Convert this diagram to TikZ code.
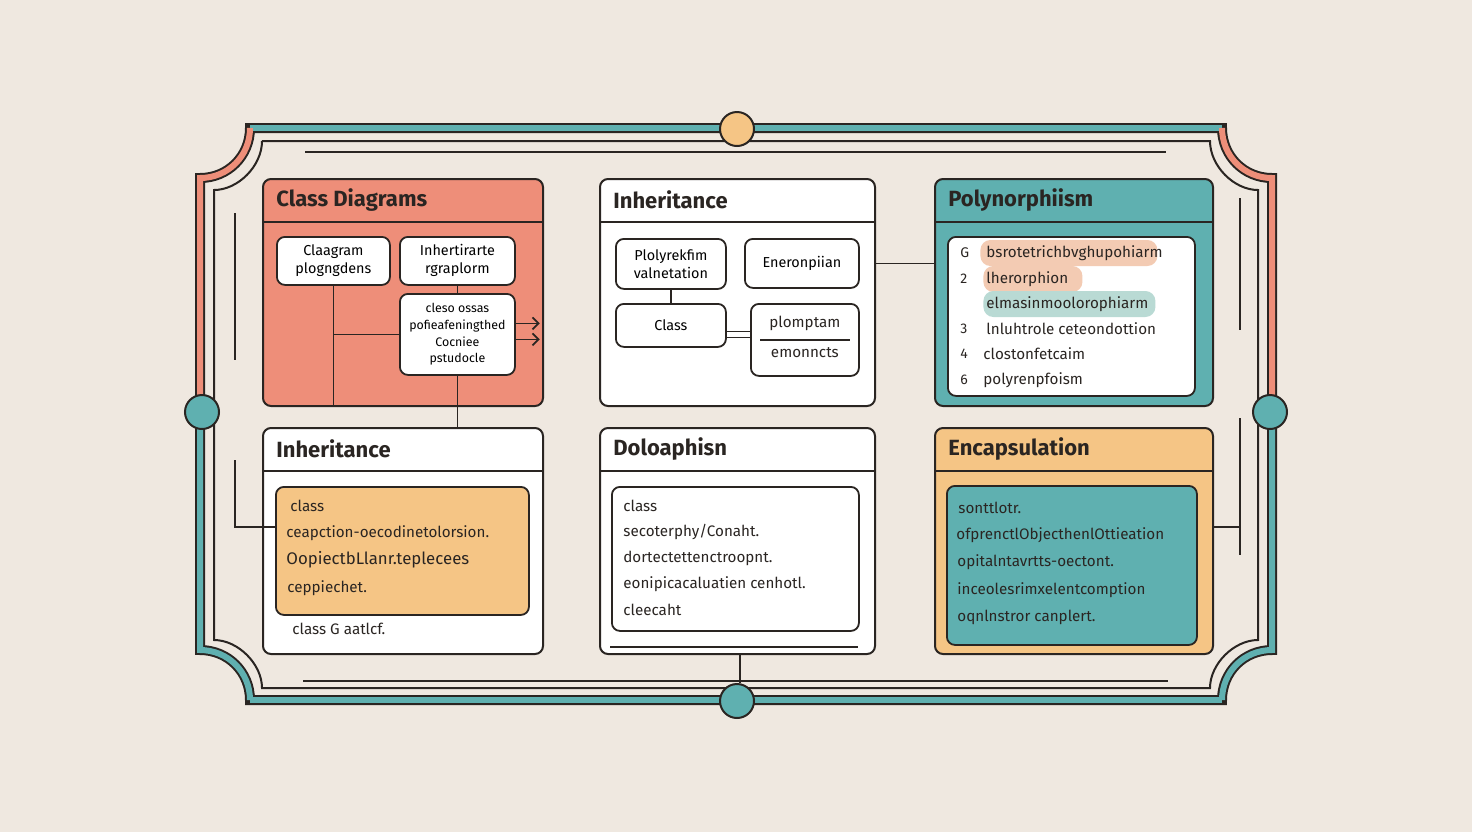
\documentclass[tikz,border=0pt]{standalone}
\usepackage{fontspec}
\setmainfont{Fira Sans}
\usetikzlibrary{calc,arrows.meta}
\definecolor{bg}{HTML}{EFE8E0}
\definecolor{ink}{HTML}{2A2522}
\definecolor{salmon}{HTML}{EE8E79}
\definecolor{teal}{HTML}{5FB0B0}
\definecolor{orng}{HTML}{F5C585}
\definecolor{hlS}{HTML}{F3CBB3}
\definecolor{hlT}{HTML}{B9DAD4}
\tikzset{
  x=0.5pt,y=-0.5pt,
  panel/.style={draw=ink,line width=1pt,rounded corners=4pt,anchor=north west,inner sep=0pt},
  box/.style={draw=ink,line width=0.9pt,rounded corners=4pt,fill=white,anchor=north west,inner sep=0pt,align=center,font=\fontsize{7.2}{9}\selectfont},
  ttl/.style={anchor=west,inner sep=0pt,font=\fontsize{11}{13}\selectfont\bfseries,text=ink},
  txt/.style={anchor=west,inner sep=0pt,font=\fontsize{7.6}{9}\selectfont,text=ink},
  ln/.style={draw=ink,line width=0.9pt},
  dot/.style={circle,draw=ink,line width=1pt,minimum size=17pt,inner sep=0pt},
  hl/.style={anchor=west,rounded corners=5pt,inner sep=0pt,minimum height=13pt}
}
\newcommand\pnl[7]{%
  \node[panel,fill=#6,minimum width=#4*0.5pt,minimum height=#5*0.5pt] (#1) at (#2,#3) {};
  \draw[ln,line width=1pt] ($(#1.north west)+(0,44)$) -- ($(#1.north east)+(0,44)$);
  \node[ttl] (#1t) at ($(#1.north west)+(14,22)$) {#7};}
\begin{document}
\begin{tikzpicture}
\fill[bg] (0,0) rectangle (1472,832);
\useasboundingbox (0,0) rectangle (1472,832);
% outer frame
\def\outer{(250,128) -- (1222,128) .. controls (1222,156) and (1244,178) .. (1272,178) -- (1272,650) .. controls (1244,650) and (1222,672) .. (1222,700) -- (250,700) .. controls (250,672) and (228,650) .. (200,650) -- (200,178) .. controls (228,178) and (250,156) .. (250,128) -- cycle}
\draw[ink,line width=5pt] \outer;
\draw[teal,line width=3pt] (250,128) -- (1222,128);
\draw[teal,line width=3pt] (1222,700) -- (250,700);
\draw[salmon,line width=3pt] (1222,128) .. controls (1222,156) and (1244,178) .. (1272,178) -- (1272,412);
\draw[teal,line width=3pt] (1272,412) -- (1272,650) .. controls (1244,650) and (1222,672) .. (1222,700);
\draw[teal,line width=3pt] (250,700) .. controls (250,672) and (228,650) .. (200,650) -- (200,412);
\draw[salmon,line width=3pt] (200,412) -- (200,178) .. controls (228,178) and (250,156) .. (250,128);
% inner frame
\draw[ln,line width=1pt] (262,141) -- (1210,141) .. controls (1210,166) and (1234,190) .. (1258,190) -- (1258,640) .. controls (1234,640) and (1210,664) .. (1210,688) -- (262,688) .. controls (262,664) and (238,640) .. (214,640) -- (214,190) .. controls (238,190) and (262,166) .. (262,141);
\draw[ln] (305,152) -- (1166,152);
\draw[ln] (303,681) -- (1168,681);
\draw[ln] (235,213) -- (235,360);
\draw[ln] (1240,198) -- (1240,330);
\draw[ln] (1240,418) -- (1240,555);
% circles
\node[dot,fill=orng] (ct) at (737,129) {};
\node[dot,fill=teal] (cl) at (202,412) {};
\node[dot,fill=teal] (cr) at (1270,412) {};
\node[dot,fill=teal] (cb) at (737,701) {};
% panels
\pnl{p1}{262}{178}{280}{227}{salmon}{Class Diagrams}
\pnl{p2}{599}{178}{275}{227}{white}{Inheritance}
\pnl{p3}{934}{178}{278}{227}{teal}{Polynorphiism}
\pnl{p4}{262}{427}{280}{226}{white}{Inheritance}
\pnl{p5}{599}{427}{275}{226}{white}{Doloaphisn}
\pnl{p6}{934}{427}{278}{226}{orng}{Encapsulation}
% panel 1
\node[box,minimum width=56.5pt,minimum height=24pt] (b1) at (276,236) {Claagram\\plogngdens};
\node[box,minimum width=57.5pt,minimum height=24pt] (b2) at (399,236) {Inhertirarte\\rgraplorm};
\node[box,minimum width=57.5pt,minimum height=40.5pt,font=\fontsize{6.2}{8.3}\selectfont] (b3) at (399,293) {cleso ossas\\pofieafeningthed\\Cocniee\\pstudocle};
\draw[ln] (b1.south) -- (b1.south |- p1.south);
\coordinate (j1) at (b1.south |- b3.west);
\draw[ln] (j1) -- (b3.west);
\draw[ln] (b2.south) -- (b3.north);
\draw[ln] (b3.south) -- (b3.south |- p4.north);
\coordinate (a1) at ($(b3.east)+(24,-11)$);
\coordinate (a2) at ($(b3.east)+(24,5)$);
\draw[ln,-{Straight Barb[length=3pt]}] ($(b3.east)+(0,-11)$) -- (a1);
\draw[ln,-{Straight Barb[length=3pt]}] ($(b3.east)+(0,5)$) -- (a2);
% panel 2
\node[box,minimum width=55pt,minimum height=25pt] (c1) at (615,238) {Plolyrekfim\\valnetation};
\node[box,minimum width=57pt,minimum height=24.5pt] (c2) at (744,238) {Eneronpiian};
\node[box,minimum width=55pt,minimum height=21.5pt] (c3) at (615,303) {Class};
\node[box,minimum width=54pt,minimum height=36pt] (c4) at (750,303) {};
\node[txt,anchor=center] (c4a) at ($(c4.north)+(0,20)$) {plomptam};
\node[txt,anchor=center] (c4b) at ($(c4.north)+(0,50)$) {emonncts};
\draw[ln] ($(c4.west)+(10,0)$) -- ($(c4.east)+(-10,0)$);
\draw[ln] (c1.south) -- (c3.north);
\coordinate (k1) at ($(c3.east)+(0,6)$);
\coordinate (k2) at ($(c3.east)+(0,12)$);
\draw[ln] (k1) -- (k1 -| c4.west);
\draw[ln] (k2) -- (k2 -| c4.west);
\draw[ln] (p2.east |- c2.west) -- (p3.west |- c2.west);
% panel 3
\node[box,minimum width=123.5pt,minimum height=79.5pt] (d0) at (947,236) {};
\node[hl,fill=hlS,minimum width=88.5pt] (h1) at (980,253) {};
\node[hl,fill=hlS,minimum width=49.5pt] (h2) at (983,279) {};
\node[hl,fill=hlT,minimum width=86pt] (h3) at (983,304) {};
\foreach \n/\y/\t in {n1/253/G,n2/279/2,n3/329/3,n4/354/4,n5/380/6}
  \node[txt,font=\fontsize{7}{8}\selectfont] (\n) at (960,\y) {\t};
\node[txt] (r1) at (986,253) {bsrotetrichbvghupohiarm};
\node[txt] (r2) at (986,279) {lherorphion};
\node[txt] (r3) at (986,304) {elmasinmoolorophiarm};
\node[txt] (r4) at (986,329) {lnluhtrole ceteondottion};
\node[txt] (r5) at (983,354) {clostonfetcaim};
\node[txt] (r6) at (983,380) {polyrenpfoism};
% panel 4
\node[box,fill=orng,minimum width=126.5pt,minimum height=64pt] (e0) at (275,486) {};
\node[txt] (e1) at (290,506) {class};
\node[txt] (e2) at (286,533) {ceapction-oecodinetolorsion.};
\node[txt,font=\fontsize{8.4}{10}\selectfont] (e3) at (286,560) {OopiectbLlanr.teplecees};
\node[txt] (e4) at (287,588) {ceppiechet.};
\node[txt] (e5) at (292,629) {class G aatlcf.};
\coordinate (l1) at (235,460);
\coordinate (l2) at (235,527);
\draw[ln] (l1) -- (l2) -- (l2 -| e0.west);
% panel 5
\node[box,minimum width=123.5pt,minimum height=72pt] (f0) at (611,486) {};
\node[txt] (f1) at (623,506) {class};
\node[txt] (f2) at (623,532) {secoterphy/Conaht.};
\node[txt] (f3) at (623,558) {dortectettenctroopnt.};
\node[txt] (f4) at (623,584) {eonipicacaluatien cenhotl.};
\node[txt] (f5) at (623,610) {cleecaht};
\draw[ln] (610,647) -- (858,647);
\draw[ln] (p5.south -| 740,0) -- (cb.north -| 740,0);
% panel 6
\node[box,fill=teal,minimum width=125pt,minimum height=79.5pt] (g0) at (946,485) {};
\node[txt] (g1) at (958,508) {sonttlotr.};
\node[txt] (g2) at (956,535) {ofprenctlObjecthenlOttieation};
\node[txt] (g3) at (957,562) {opitalntavrtts-oectont.};
\node[txt] (g4) at (957,590) {inceolesrimxelentcomption};
\node[txt] (g5) at (957,617) {oqnlnstror canplert.};
\coordinate (m1) at (1240,527);
\draw[ln] (p6.east |- m1) -- (m1);
\end{tikzpicture}
\end{document}
